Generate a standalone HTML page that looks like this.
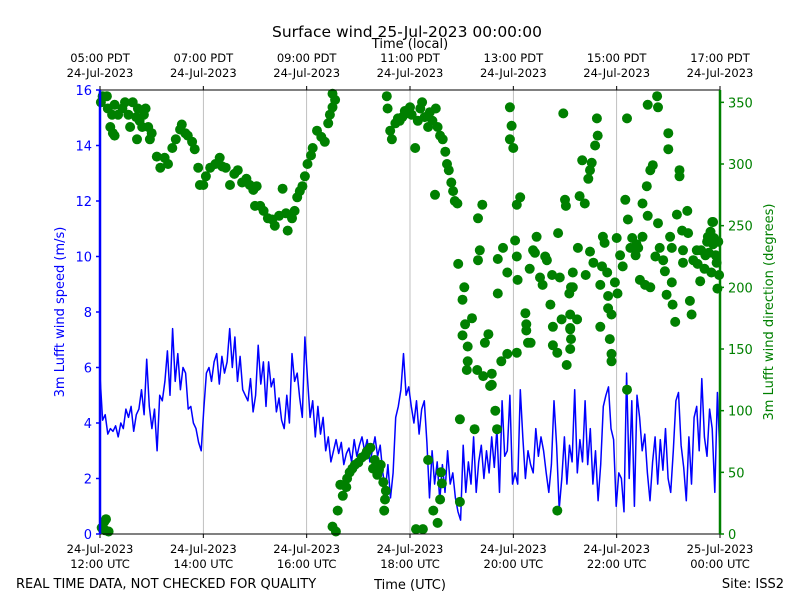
<!DOCTYPE html>
<html><head><meta charset="utf-8"><style>
body{margin:0;background:#fff;}
svg{display:block;font-family:"DejaVu Sans","Liberation Sans",sans-serif;}
</style></head><body>
<svg id="chart" width="800" height="600" viewBox="0 0 800 600" xmlns="http://www.w3.org/2000/svg">
<rect width="800" height="600" fill="#fff"/>
<text x="407" y="37" font-size="15.5" text-anchor="middle">Surface wind 25-Jul-2023 00:00:00</text>
<text x="410" y="48" font-size="13" text-anchor="middle">Time (local)</text>
<text x="410" y="589" font-size="13" text-anchor="middle">Time (UTC)</text>
<text x="16" y="588" font-size="13">REAL TIME DATA, NOT CHECKED FOR QUALITY</text>
<text x="784" y="588" font-size="13" text-anchor="end">Site: ISS2</text>
<text transform="translate(64,312) rotate(-90)" font-size="13" fill="#0000ff" text-anchor="middle">3m Lufft wind speed (m/s)</text>
<text transform="translate(773,312) rotate(-90)" font-size="13" fill="#008000" text-anchor="middle">3m Lufft wind direction (degrees)</text>
<g id="grid"></g><g id="speed"></g><g id="dirs"></g><g id="axes"></g>
</svg>
<script>
const speedValues=[
5.7,4.1,4.3,3.6,3.8,3.7,3.9,3.5,4.0,3.8,4.5,4.2,4.6,3.7,4.3,4.5,5.2,4.3,6.3,4.6,
3.8,4.5,3.0,5.0,4.8,5.5,6.6,5.0,7.4,5.5,6.5,5.2,6.0,5.8,4.5,4.6,4.0,3.8,3.3,3.0,
4.5,5.8,6.0,5.5,6.2,6.5,5.4,6.4,5.8,6.2,7.4,6.0,7.1,5.5,6.4,5.2,5.0,4.8,5.6,4.4,
5.0,6.8,5.4,6.2,4.6,6.2,5.3,5.6,4.4,4.9,4.1,3.8,5.0,4.0,6.5,5.5,5.8,4.9,4.2,7.1,
5.6,4.2,4.8,3.5,4.6,3.6,4.2,3.0,3.5,2.6,3.0,3.4,2.9,3.3,2.5,2.9,3.1,2.6,3.4,2.8,
3.2,3.5,3.0,3.4,2.6,3.0,3.5,2.8,3.2,2.2,1.6,2.5,1.3,2.2,4.2,4.6,5.2,6.5,5.0,5.3,
4.6,4.0,4.8,3.6,4.5,4.8,3.3,1.3,3.0,1.8,2.6,1.2,2.5,1.5,3.0,1.8,2.2,1.3,0.8,0.5,
3.2,1.5,2.6,1.8,3.5,1.5,2.6,3.2,2.0,3.0,2.2,3.5,2.4,3.8,1.5,4.8,2.8,3.0,5.0,1.8,
2.2,1.8,5.2,3.5,2.0,3.0,2.5,2.2,3.8,2.8,3.5,3.0,2.2,1.5,2.5,4.8,3.2,0.9,2.0,3.5,
1.8,3.2,2.6,5.2,2.2,3.4,2.6,4.8,2.5,3.8,1.8,3.0,1.2,2.5,4.6,5.0,5.3,3.8,3.4,1.0,
2.2,2.0,0.8,5.8,2.0,4.8,1.0,5.0,4.2,3.0,3.6,2.2,1.2,2.6,3.5,1.8,3.4,2.3,3.8,2.0,
1.5,3.0,4.8,5.1,3.2,2.4,1.2,3.5,1.8,4.2,4.6,3.0,5.6,3.5,2.8,4.5,3.8,1.5,5.1,2.8];
const dirMinutes=[1,2,3,5,6,7,8,9,10,12,14,15,17,17,21,26,29,33,35,38,42,43,44,46,49,51,53,56,58,
60,66,70,75,79,84,88,93,95,99,102,107,110,114,116,
120,123,128,134,139,142,146,151,156,160,165,170,174,178,180,
182,186,190,195,200,203,208,212,216,218,223,226,229,232,235,238,
241,245,247,252,257,261,265,267,270,270,273,270,274,276,279,282,286,287,290,293,296,
300,304,308,310,314,317,319,322,324,326,329,331,330,332,333,334,337,339,343,346,348,351,354,358,360,
362,366,367,369,372,374,377,381,383,386,389,390,392,395,398,401,403,405,408,410,412,415,381,397,395,387,392,375,418,416,418,396,
421,423,424,421,427,427,426,432,435,438,439,441,444,439,447,445,455,455,451,459,461,462,462,468,473,473,476,478,476,480,453,466,
482,484,485,488,484,494,495,495,497,500,484,499,505,507,511,514,519,523,526,526,531,534,536,538,542,540,531,532,546,547,503,517,525,
541,555,549,549,545,546,554,546,547,546,560,569,567,571,577,578,575,557,563,569,583,584,586,581,589,590,590,594,581,592,594,594,598,600,564,573,
604,607,612,610,613,612,601,616,622,625,630,627,633,630,635,636,639,642,636,647,648,648,650,654,656,658,660,660,618,623,645,639,
662,664,664,665,668,670,673,673,676,677,677,682,683,685,687,689,693,694,697,698,703,705,706,709,711,712,715,716,717,718,712,719,702,707,710,713];
const dirDegrees=[350,5,355,10,3,12,355,345,2,330,340,325,348,323,340,345,350,340,330,350,338,320,345,335,330,340,345,330,320,
325,306,297,305,300,313,320,328,332,325,323,318,312,297,283,
283,290,297,300,305,298,297,283,292,295,285,288,283,279,266,
282,266,262,256,255,250,258,280,260,246,256,262,273,278,282,290,
300,307,313,327,322,318,333,340,346,357,352,6,2,19,40,31,38,45,50,53,56,
58,62,64,67,70,53,60,48,52,56,42,28,19,35,355,345,327,320,333,337,335,338,343,341,346,
340,313,4,335,345,350,338,330,342,335,275,345,330,323,320,310,300,295,285,278,270,268,60,41,28,19,9,4,26,219,93,50,
190,200,170,161,152,140,133,175,85,133,222,230,267,256,155,128,130,121,162,100,85,195,223,232,212,146,346,331,320,313,120,140,
238,225,206,273,267,179,170,165,155,155,147,215,228,241,208,202,222,186,168,153,147,208,174,341,137,271,19,244,167,200,230,225,210,
266,232,212,200,195,178,174,166,158,150,303,295,288,301,337,323,315,274,268,229,217,241,236,202,212,193,183,178,168,158,146,140,204,240,210,220,
226,217,337,271,255,117,195,232,226,232,241,206,202,268,282,258,295,299,348,355,346,252,232,222,213,194,325,312,240,235,225,200,
241,232,204,186,172,259,295,290,246,230,220,262,244,189,178,222,230,219,205,230,226,237,241,245,253,235,226,220,199,237,253,210,215,228,212,240];
const xTickLabelsUTC=[["24-Jul-2023","12:00 UTC"],["24-Jul-2023","14:00 UTC"],["24-Jul-2023","16:00 UTC"],["24-Jul-2023","18:00 UTC"],["24-Jul-2023","20:00 UTC"],["24-Jul-2023","22:00 UTC"],["25-Jul-2023","00:00 UTC"]];
const xTickLabelsLocal=[["05:00 PDT","24-Jul-2023"],["07:00 PDT","24-Jul-2023"],["09:00 PDT","24-Jul-2023"],["11:00 PDT","24-Jul-2023"],["13:00 PDT","24-Jul-2023"],["15:00 PDT","24-Jul-2023"],["17:00 PDT","24-Jul-2023"]];
const leftTicks=[0,2,4,6,8,10,12,14,16];
const rightTicks=[0,50,100,150,200,250,300,350];

const L=100,R=720,T=90,B=534,NS="http://www.w3.org/2000/svg";
const xScale=m=>L+(m/720)*(R-L);
const ySpeed=v=>B-(v/16)*(B-T);
const yDir=d=>B-(d/360)*(B-T);
function mk(tag,attrs,parent){const e=document.createElementNS(NS,tag);for(const k in attrs)e.setAttribute(k,attrs[k]);parent.appendChild(e);return e;}
const grid=document.getElementById('grid'),axes=document.getElementById('axes');
xTickLabelsUTC.forEach((lab,i)=>{
  const x=xScale(i*120);
  if(i>0&&i<6){const g=mk('line',{x1:x,x2:x,y1:T,y2:B,stroke:'#b0b0b0','stroke-width':0.8},grid);
  
  }
  mk('line',{x1:x,x2:x,y1:B,y2:B+4,stroke:'#000'},axes);
  mk('line',{x1:x,x2:x,y1:T,y2:T-4,stroke:'#000'},axes);
  const t=mk('text',{x:x,y:553,'font-size':11.5,'text-anchor':'middle'},axes);
  
  
  mk('tspan',{x:x},t).textContent=lab[0];mk('tspan',{x:x,dy:15},t).textContent=lab[1];
  const t2=mk('text',{x:x,y:62,'font-size':11.5,'text-anchor':'middle'},axes);
  
  
  mk('tspan',{x:x},t2).textContent=xTickLabelsLocal[i][0];mk('tspan',{x:x,dy:15},t2).textContent=xTickLabelsLocal[i][1];
});
// speed line
const sg=document.getElementById('speed');
const pts=speedValues.map((v,i)=>xScale(i*720/(speedValues.length-1)).toFixed(1)+','+ySpeed(v).toFixed(1)).join(' ');
const pl=mk('polyline',{points:pts,fill:'none',stroke:'#0000ff','stroke-width':1.5,'stroke-linejoin':'round'},sg);


// direction dots
const dg=document.getElementById('dirs');
dirMinutes.forEach((m,i)=>{
  const c=mk('circle',{cx:xScale(m).toFixed(1),cy:yDir(dirDegrees[i]).toFixed(1),r:5,fill:'#008000'},dg);
  
  
});
// spines
mk('line',{x1:L,x2:R,y1:T,y2:T,stroke:'#000','stroke-width':1},axes);
mk('line',{x1:L,x2:R,y1:B,y2:B,stroke:'#000','stroke-width':1},axes);
mk('line',{x1:L,x2:L,y1:T,y2:B,stroke:'#0000ff','stroke-width':2.5},axes);
mk('line',{x1:R,x2:R,y1:T,y2:B,stroke:'#008000','stroke-width':2.5},axes);
leftTicks.forEach(v=>{
  const y=ySpeed(v);
  mk('line',{x1:L-4,x2:L,y1:y,y2:y,stroke:'#0000ff','stroke-width':1.5},axes);
  const t=mk('text',{x:L-8,y:y+5,'font-size':13,fill:'#0000ff','text-anchor':'end'},axes);
  
  
  t.textContent=v;
});
rightTicks.forEach(v=>{
  const y=yDir(v);
  mk('line',{x1:R,x2:R+4,y1:y,y2:y,stroke:'#008000','stroke-width':1.5},axes);
  const t=mk('text',{x:R+8,y:y+5,'font-size':13,fill:'#008000'},axes);
  
  
  t.textContent=v;
});
</script>
</body></html>
